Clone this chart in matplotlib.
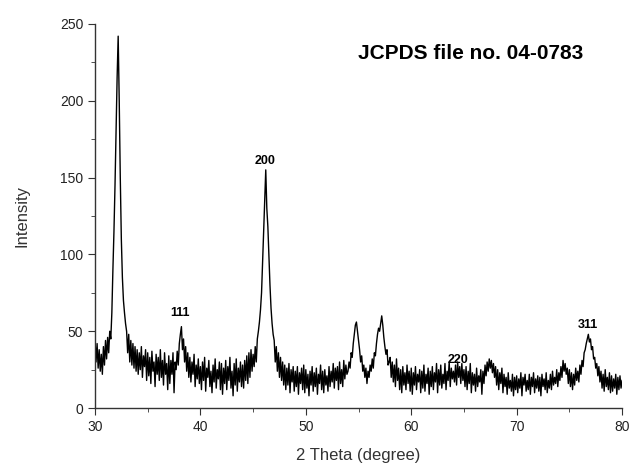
import numpy as np
import matplotlib
matplotlib.use("Agg")
import matplotlib.pyplot as plt

plt.rcParams['font.family'] = ['Liberation Sans', 'DejaVu Sans']

# 2 theta from 30 to 80 in 0.1 degree steps, intensity
two_theta = np.round(np.arange(300, 801) / 10.0, 1)
intensity = [
    45, 30, 42, 26, 38, 24, 35, 22, 40, 28,   # 30
    44, 32, 46, 36, 50, 45, 62, 90, 115, 145,  # 31
    180, 215, 242, 200, 150, 110, 85, 70, 62, 55,  # 32
    50, 36, 48, 30, 44, 28, 42, 26, 40, 24,   # 33
    38, 22, 36, 25, 40, 20, 34, 27, 38, 18,   # 34
    36, 21, 33, 16, 37, 24, 30, 14, 35, 22,   # 35
    33, 18, 38, 20, 31, 15, 36, 22, 29, 12,   # 36
    34, 16, 31, 22, 36, 10, 30, 25, 37, 28,   # 37
    42, 48, 53, 38, 45, 30, 40, 24, 36, 20,   # 38
    33, 17, 30, 22, 35, 14, 28, 19, 32, 16,   # 39
    27, 12, 30, 18, 33, 11, 26, 20, 31, 14,   # 40
    24, 10, 28, 17, 32, 13, 25, 19, 30, 12,   # 41
    29, 9, 26, 16, 31, 12, 27, 18, 33, 13,    # 42
    24, 8, 29, 15, 32, 11, 26, 17, 30, 14,    # 43
    28, 13, 31, 18, 34, 16, 36, 20, 38, 24,   # 44
    35, 27, 40, 30, 45, 50, 56, 64, 75, 95,   # 45
    115, 135, 155, 130, 118, 98, 80, 65, 55, 48,  # 46
    44, 30, 40, 24, 36, 20, 33, 18, 30, 15,   # 47
    28, 12, 26, 15, 29, 10, 25, 17, 27, 11,   # 48
    24, 14, 27, 9, 23, 16, 26, 12, 28, 10,    # 49
    25, 13, 22, 8, 24, 15, 27, 11, 23, 14,    # 50
    26, 9, 22, 16, 28, 12, 24, 10, 25, 15,    # 51
    21, 11, 27, 14, 24, 17, 29, 13, 26, 18,   # 52
    27, 12, 30, 16, 25, 14, 31, 19, 28, 22,   # 53
    24, 30, 26, 36, 33, 42, 48, 54, 56, 50,   # 54
    44, 38, 30, 34, 24, 28, 20, 26, 16, 24,   # 55
    20, 28, 24, 32, 26, 36, 34, 42, 48, 52,   # 56
    50, 55, 60, 54, 46, 40, 35, 38, 28, 30,   # 57
    33, 20, 30, 17, 28, 14, 32, 18, 26, 12,   # 58
    25, 10, 27, 15, 23, 12, 28, 16, 24, 11,   # 59
    26, 9, 23, 15, 27, 12, 22, 17, 25, 10,    # 60
    24, 13, 28, 11, 22, 16, 26, 9, 24, 14,    # 61
    27, 12, 23, 17, 29, 10, 25, 15, 28, 13,   # 62
    22, 16, 29, 12, 24, 18, 30, 14, 26, 19,   # 63
    24, 17, 28, 15, 30, 20, 27, 16, 29, 18,   # 64
    25, 14, 27, 12, 24, 16, 29, 10, 23, 15,   # 65
    22, 11, 26, 14, 21, 17, 25, 9, 24, 16,    # 66
    28, 21, 30, 24, 32, 26, 31, 23, 29, 20,   # 67
    27, 15, 25, 12, 23, 16, 26, 10, 22, 14,   # 68
    20, 9, 23, 13, 18, 11, 22, 8, 20, 12,     # 69
    21, 10, 19, 13, 23, 8, 20, 15, 22, 11,    # 70
    18, 12, 22, 9, 20, 14, 23, 10, 19, 13,    # 71
    21, 11, 20, 8, 22, 14, 19, 12, 23, 10,    # 72
    18, 13, 22, 12, 24, 15, 20, 16, 25, 14,   # 73
    23, 18, 27, 20, 31, 24, 29, 22, 26, 16,   # 74
    25, 14, 23, 12, 22, 15, 26, 18, 24, 17,   # 75
    28, 22, 31, 27, 36, 38, 42, 45, 48, 43,   # 76
    45, 38, 40, 32, 33, 26, 29, 21, 27, 17,   # 77
    24, 13, 22, 11, 25, 14, 20, 12, 23, 10,   # 78
    21, 11, 19, 13, 22, 9, 20, 12, 21, 13,    # 79
    18,                                       # 80
]

peak_labels = ['111', '200', '220', '311']
peak_x = [38.1, 46.1, 64.4, 76.8]
peak_y = [62, 161, 31, 54]

fig = plt.figure(figsize=(6.29, 4.68), dpi=100)
ax = fig.add_axes([0.151, 0.128, 0.838, 0.821])

ax.plot(two_theta, intensity, color='black', lw=1.0)

for lab, px, py in zip(peak_labels, peak_x, peak_y):
    ax.text(px, py, lab, ha='center', va='center', fontsize=9, fontweight='bold')

ax.text(65.6, 231, 'JCPDS file no. 04-0783', ha='center', va='center',
        fontsize=15, fontweight='bold')

ax.set_xlim(30, 80)
ax.set_ylim(0, 250)
ax.set_xticks([30, 40, 50, 60, 70, 80])
ax.set_xticks([35, 45, 55, 65, 75], minor=True)
ax.set_yticks([0, 50, 100, 150, 200, 250])
ax.set_yticks([25, 75, 125, 175, 225], minor=True)

for s in ['top', 'right']:
    ax.spines[s].set_visible(False)
for s in ['left', 'bottom']:
    ax.spines[s].set_color('#333333')
    ax.spines[s].set_linewidth(1.0)
ax.tick_params(which='major', direction='out', length=5, color='#333333',
               labelsize=10, labelcolor='#222222')
ax.tick_params(which='minor', direction='out', length=3, color='#333333')

ax.set_xlabel('2 Theta (degree)', fontsize=12, color='#333333', labelpad=10)
ax.set_ylabel('Intensity', fontsize=12, color='#333333', labelpad=22)

fig.savefig('out.png', dpi=100)
